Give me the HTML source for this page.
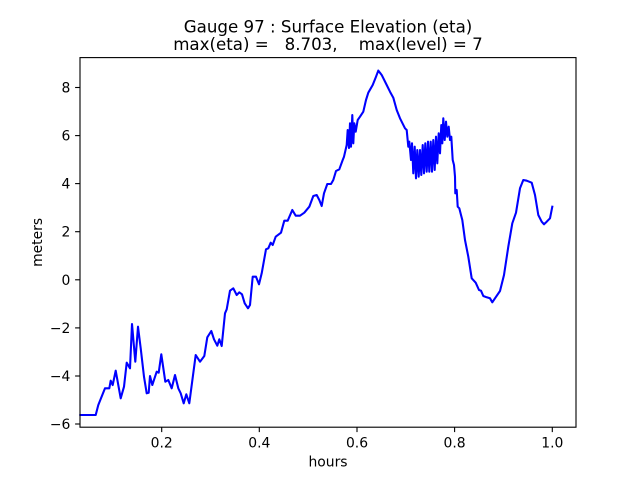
<!DOCTYPE html>
<html>
<head>
<meta charset="utf-8">
<style>
  html, body { margin: 0; padding: 0; background: #ffffff; }
  svg { display: block; }
  text { font-family: "DejaVu Sans", "Liberation Sans", sans-serif; fill: #000; }
</style>
</head>
<body>
<svg width="640" height="480" viewBox="0 0 640 480" xmlns="http://www.w3.org/2000/svg">
  <rect x="0" y="0" width="640" height="480" fill="#ffffff"/>

  <!-- data line -->
  <polyline fill="none" stroke="#0000ff" stroke-width="2.08" stroke-linejoin="round" stroke-linecap="square"
    points="80.3,415 95.7,415 98.3,405 105,388.3 109.3,388.3 110.7,380.7 112.7,385 115.7,370.7 120.7,398.3 124,386.7 126.7,362.7 130,368.3 132,324 135.3,361.7 138,326.7 140.7,348.3 144,376.7 146.7,393.3 148.7,392.7 150,376 152.3,385 156.7,371.7 158.7,372.7 161.3,354.3 165.3,381.7 168.3,380 171.7,388.3 175,375 178.3,388.3 180.7,393.3 183.7,403.3 186.3,394.3 189.3,403.3 195.7,355 200,361.7 204.3,356 207.3,337.3 211.3,331 214,339.3 217.3,345.7 219.3,339.3 221.7,346 225,313.3 226.7,309.3 230,290.7 233.3,288.3 236.7,295 239.3,292.3 242,294.3 244.7,303.3 248,308.3 250,305 252.7,276.7 256,276.7 259,284.3 261.7,273.3 266,249.3 268.3,248.3 270.7,242.7 272.7,245 275.7,236.7 281,232.7 284.3,220.7 287.7,220.7 292.3,210 295.7,215.7 300,215.7 304.3,212.7 309.3,206.7 313.3,196 316.7,195 319.3,200 321.7,206 324,193.3 327.3,184 331,184 333.3,180 336,171 339.3,169.3 342.7,160 344,156.7 346.7,145 347.7,130 349,148 350,123.3 351,146.7 352.3,115 353.3,143.3 354.3,123.3 355.7,131.7 357.7,120 360,116.7 363.3,111.7 366,100 368.3,92.7 372.7,85 376,76.7 378.3,70.6 381.7,75 386.7,85 390,91.7 393.3,97.7 396.7,110 400,118.3 405,128.3 406.7,130 408.3,146.7 409.3,141.7 411,160 412,143.3 413.3,173.3 414.7,146.7 416,178.3 417.3,150 418.7,176.7 420,150 421.3,175 422.7,145 424,173.3 425.3,143.3 426.7,171.7 428,141.7 429.3,171.7 430.7,141.7 432,171.7 433.3,140 434.7,170 436,136.7 437.3,163.3 438.7,133.3 440,153.3 441.3,125 442.3,143.3 443.3,118.3 444.7,140 446,121.7 447.3,136.7 448.7,126.7 450,140 451.3,136.7 452.7,160 454,165 455,176.7 455.3,193.3 456.7,190 457.7,206.7 459.3,208.3 461,215 462.3,220 465,240 468.3,256.7 471.7,278.3 475.7,282.7 479,290 481,290.7 483.3,296 486.7,297.3 490,298.3 492.3,302.3 495,298.3 500,291 504,275 508.3,246.7 512.3,223.3 516,212.7 520,188.3 523.3,180 526.7,180.7 531.7,182.7 535,195 538.3,215 541.7,221.7 544,224.3 546.7,221.7 550,218.3 552.3,206.7"/>

  <!-- axes frame -->
  <rect x="80" y="57.6" width="496" height="369.6" fill="none" stroke="#000" stroke-width="1.11"/>

  <!-- y ticks -->
  <g stroke="#000" stroke-width="1.11">
    <line x1="75.1" y1="424.0" x2="80" y2="424.0"/>
    <line x1="75.1" y1="376.0" x2="80" y2="376.0"/>
    <line x1="75.1" y1="327.9" x2="80" y2="327.9"/>
    <line x1="75.1" y1="279.8" x2="80" y2="279.8"/>
    <line x1="75.1" y1="231.7" x2="80" y2="231.7"/>
    <line x1="75.1" y1="183.6" x2="80" y2="183.6"/>
    <line x1="75.1" y1="135.6" x2="80" y2="135.6"/>
    <line x1="75.1" y1="87.5" x2="80" y2="87.5"/>
  </g>
  <g font-size="13.9" text-anchor="end">
    <text x="70.3" y="429.0">−6</text>
    <text x="70.3" y="381.0">−4</text>
    <text x="70.3" y="332.9">−2</text>
    <text x="70.3" y="284.8">0</text>
    <text x="70.3" y="236.7">2</text>
    <text x="70.3" y="188.6">4</text>
    <text x="70.3" y="140.6">6</text>
    <text x="70.3" y="92.5">8</text>
  </g>

  <!-- x ticks -->
  <g stroke="#000" stroke-width="1.11">
    <line x1="161.7" y1="427.2" x2="161.7" y2="432.1"/>
    <line x1="259.3" y1="427.2" x2="259.3" y2="432.1"/>
    <line x1="357.0" y1="427.2" x2="357.0" y2="432.1"/>
    <line x1="454.6" y1="427.2" x2="454.6" y2="432.1"/>
    <line x1="552.3" y1="427.2" x2="552.3" y2="432.1"/>
  </g>
  <g font-size="13.9" text-anchor="middle">
    <text x="161.7" y="447.5">0.2</text>
    <text x="259.3" y="447.5">0.4</text>
    <text x="357.0" y="447.5">0.6</text>
    <text x="454.6" y="447.5">0.8</text>
    <text x="552.3" y="447.5">1.0</text>
  </g>

  <!-- axis labels -->
  <text x="328" y="466.5" font-size="13.9" text-anchor="middle">hours</text>
  <text transform="translate(42,242.4) rotate(-90)" font-size="13.9" text-anchor="middle">meters</text>

  <!-- title -->
  <text x="328" y="32.3" font-size="16.67" text-anchor="middle" style="white-space:pre" xml:space="preserve">Gauge 97 : Surface Elevation (eta)</text>
  <text x="328" y="50" font-size="16.67" text-anchor="middle" style="white-space:pre" xml:space="preserve">max(eta) =   8.703,    max(level) = 7</text>
</svg>
</body>
</html>
